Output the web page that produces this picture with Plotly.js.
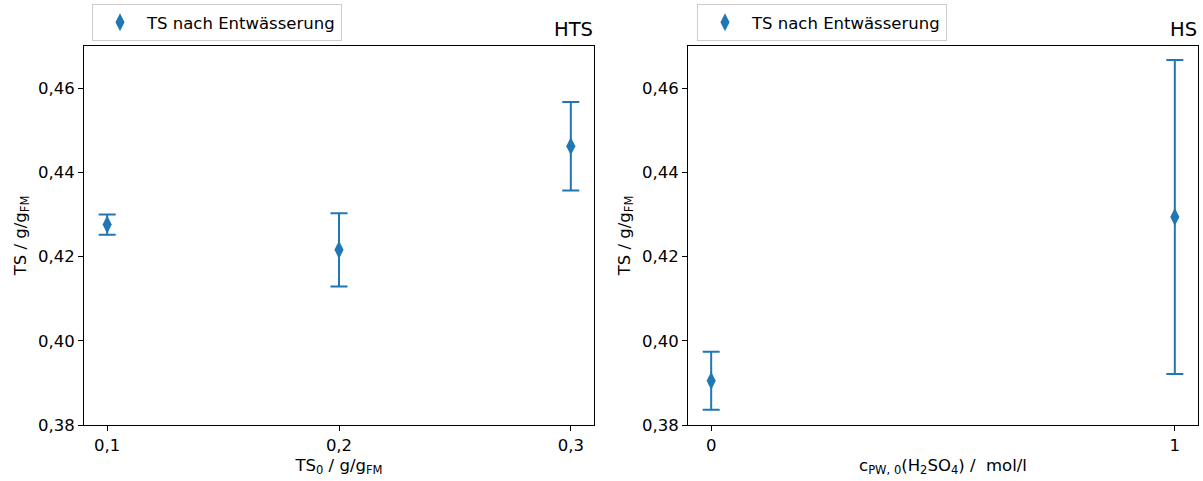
<!DOCTYPE html>
<html>
<head>
<meta charset="utf-8">
<script src="https://cdn.plot.ly/plotly-3.0.1.min.js"></script>
<style>html,body{margin:0;padding:0;background:#fff;}#chart{width:1203px;height:481px;}</style>
</head>
<body>
<div id="chart"></div>
<script>
// Left panel (HTS)
const htsX = [0.1, 0.2, 0.3];
const htsY = [0.4276, 0.4216, 0.4462];
const htsErr = [0.0024, 0.0087, 0.0105];
// Right panel (HS)
const hsX = [0, 1];
const hsY = [0.3905, 0.4294];
const hsErr = [0.0069, 0.0373];
const seriesName = 'TS nach Entwässerung';
const panelTitles = ['HTS', 'HS'];
const yTickVals = [0.38, 0.40, 0.42, 0.44, 0.46];
const htsTickVals = [0.1, 0.2, 0.3];
const hsTickVals = [0, 1];

const blue = '#1f77b4';
const FONT = 'DejaVu Sans, Verdana, sans-serif';
const W = 1203, H = 481;
const FS = 16.5;

function trace(x, y, err, xa, ya, leg) {
  return {
    x: x, y: y, type: 'scatter', mode: 'markers', name: seriesName,
    xaxis: xa, yaxis: ya, legend: leg,
    marker: {symbol: 'diamond-tall', size: 13, color: blue},
    error_y: {type: 'data', array: err, visible: true, color: blue, thickness: 2, width: 8.5}
  };
}

const data = [
  trace(htsX, htsY, htsErr, 'x', 'y', 'legend'),
  trace(hsX, hsY, hsErr, 'x2', 'y2', 'legend2')
];

const axisBase = {
  showgrid: false, zeroline: false, showline: true, mirror: true,
  linecolor: '#000', linewidth: 1, ticks: 'outside', ticklen: 5, tickwidth: 1,
  tickcolor: '#000', automargin: false,
  tickfont: {family: FONT, size: FS, color: '#000'}
};

const legendBase = {
  font: {family: FONT, size: FS, color: '#000'},
  bordercolor: '#cccccc', borderwidth: 1, bgcolor: 'rgba(255,255,255,0.8)',
  xanchor: 'left', yanchor: 'top', itemclick: false, itemwidth: 44
};

const layout = {
  width: W, height: H,
  margin: {l: 0, r: 0, t: 46, b: 56},
  paper_bgcolor: '#fff', plot_bgcolor: '#fff',
  separators: ',.',
  font: {family: FONT, size: FS, color: '#000'},
  xaxis: Object.assign({}, axisBase, {
    domain: [84 / W, 594 / W], range: [0.09, 0.31], anchor: 'y',
    tickvals: htsTickVals, tickformat: '.1f',
    title: {text: 'TS<sub>0</sub> / g/g<sub>FM</sub>', font: {family: FONT, size: FS}, standoff: 5}
  }),
  yaxis: Object.assign({}, axisBase, {
    domain: [0, 1], range: [0.38, 0.47], anchor: 'x',
    tickvals: yTickVals, tickformat: '.2f',
    title: {text: 'TS / g/g<sub>FM</sub>', font: {family: FONT, size: FS}, standoff: 7}
  }),
  xaxis2: Object.assign({}, axisBase, {
    domain: [688 / W, 1198 / W], range: [-0.05, 1.05], anchor: 'y2',
    tickvals: hsTickVals, tickformat: 'd',
    title: {text: 'c<sub>PW, 0</sub>(H<sub>2</sub>SO<sub>4</sub>) /  mol/l', font: {family: FONT, size: FS}, standoff: 5}
  }),
  yaxis2: Object.assign({}, axisBase, {
    domain: [0, 1], range: [0.38, 0.47], anchor: 'x2',
    tickvals: yTickVals, tickformat: '.2f',
    title: {text: 'TS / g/g<sub>FM</sub>', font: {family: FONT, size: FS}, standoff: 7}
  }),
  legend: Object.assign({}, legendBase, {x: 92 / W, y: 1 + 42 / 379}),
  legend2: Object.assign({}, legendBase, {x: 697 / W, y: 1 + 42 / 379}),
  annotations: [
    {text: panelTitles[0], xref: 'paper', yref: 'paper', x: 594 / W, y: 1, xanchor: 'right', yanchor: 'bottom', yshift: 3, xshift: 1, showarrow: false, font: {family: FONT, size: 19.5, color: '#000'}},
    {text: panelTitles[1], xref: 'paper', yref: 'paper', x: 1198 / W, y: 1, xanchor: 'right', yanchor: 'bottom', yshift: 3, xshift: 1, showarrow: false, font: {family: FONT, size: 19.5, color: '#000'}}
  ],
  showlegend: true
};

Plotly.newPlot('chart', data, layout, {displayModeBar: false, staticPlot: true});
</script>
</body>
</html>
